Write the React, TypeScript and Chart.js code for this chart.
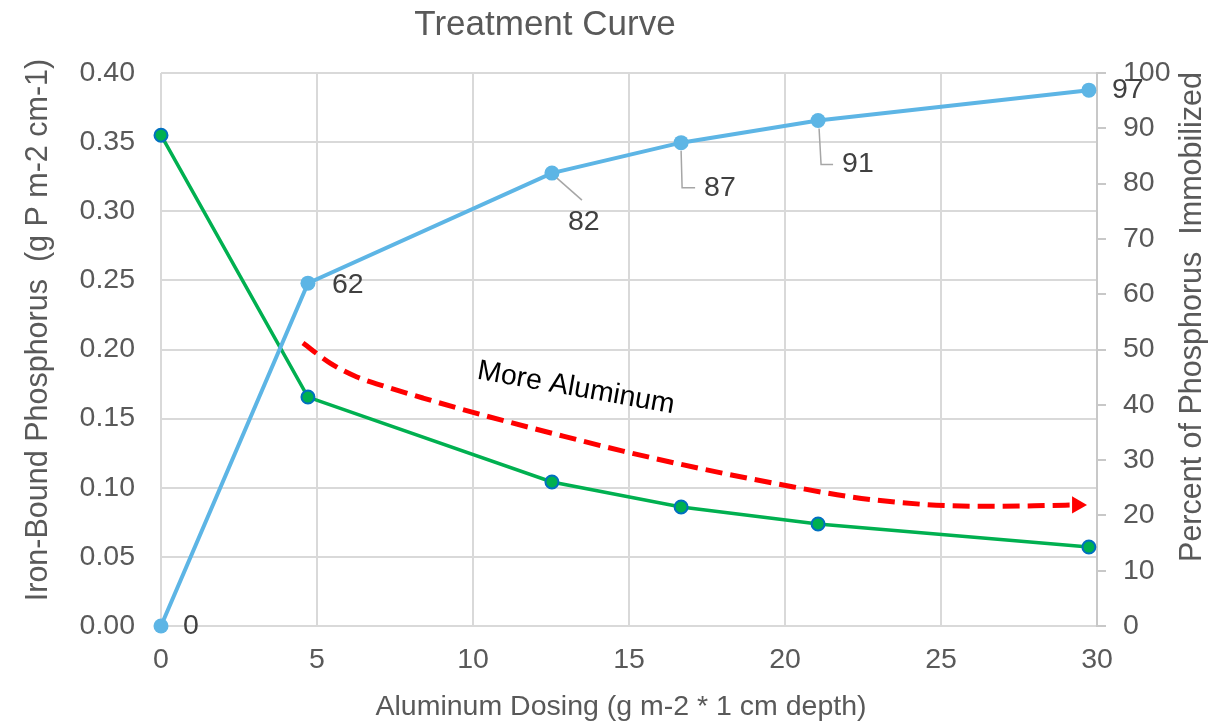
import React, { useEffect, useRef } from "react";
import { Chart, registerables } from "chart.js";

Chart.register(...registerables);

// ---- data ----
const dosing = [0, 4.71, 12.53, 16.67, 21.06, 29.74];
const ironBoundP = [0.355, 0.1656, 0.1042, 0.0861, 0.0738, 0.0571];
const percentImmobilized = [0, 62, 81.9, 87.4, 91.4, 96.9];
const percentLabels = ["0", "62", "82", "87", "91", "97"];
const arrowX = [4.55, 5.42, 6.28, 7.34, 8.4, 9.49, 10.54, 12.69, 14.81, 17.37, 19.94, 22.08, 23.69, 25.29, 26.89, 28.49, 29.36];
const arrowY = [0.2047, 0.1902, 0.1801, 0.1722, 0.1649, 0.1577, 0.1512, 0.1385, 0.1265, 0.1135, 0.102, 0.0935, 0.0893, 0.087, 0.0866, 0.0872, 0.0876];
const annotationText = "More Aluminum";
const annotationAt = { x: 13.3, y: 0.172 };
const titleText = "Treatment Curve";
const xTitle = "Aluminum Dosing (g m-2 * 1 cm depth)";
const yTitle = "Iron-Bound Phosphorus  (g P m-2 cm-1)";
const y1Title = "Percent of Phosphorus  Immobilized";

const FONT = "'Liberation Sans', Arial, sans-serif";
const GRAY = "#595959";

// label placement relative to each point (style only)
const labelPlacement = [
  { dx: 22, dy: 0, leader: [] as number[][] },
  { dx: 24, dy: 2, leader: [] as number[][] },
  { dx: 16, dy: 49, leader: [[5, 5], [30, 27]] },
  { dx: 23, dy: 45, leader: [[0, 8], [1, 45], [14, 45]] },
  { dx: 24, dy: 44, leader: [[1, 8], [3, 44], [15, 44]] },
  { dx: 23, dy: 0, leader: [] as number[][] },
];

const overlayPlugin = {
  id: "overlay",
  afterDatasetsDraw(chart: any) {
    const ctx = chart.ctx;
    const xs = chart.scales.x;
    const ys = chart.scales.y;
    const meta = chart.getDatasetMeta(0);
    ctx.save();
    meta.data.forEach((pt: any, i: number) => {
      const p = labelPlacement[i];
      if (p.leader.length) {
        ctx.beginPath();
        ctx.strokeStyle = "#a6a6a6";
        ctx.lineWidth = 1.5;
        p.leader.forEach((o: number[], k: number) => {
          if (k === 0) ctx.moveTo(pt.x + o[0], pt.y + o[1]);
          else ctx.lineTo(pt.x + o[0], pt.y + o[1]);
        });
        ctx.stroke();
      }
      ctx.fillStyle = "#404040";
      ctx.font = `28.5px ${FONT}`;
      ctx.textAlign = "left";
      ctx.textBaseline = "middle";
      ctx.fillText(percentLabels[i], pt.x + p.dx, pt.y + p.dy);
    });
    const ax = xs.getPixelForValue(annotationAt.x);
    const ay = ys.getPixelForValue(annotationAt.y);
    ctx.translate(ax, ay);
    ctx.rotate((10 * Math.PI) / 180);
    ctx.fillStyle = "#000000";
    ctx.font = `28.5px ${FONT}`;
    ctx.textAlign = "center";
    ctx.textBaseline = "middle";
    ctx.fillText(annotationText, 0, 0);
    ctx.restore();
  },
  afterDraw(chart: any) {
    const ctx = chart.ctx;
    ctx.save();
    ctx.fillStyle = GRAY;
    ctx.textAlign = "center";
    ctx.textBaseline = "alphabetic";
    ctx.font = `35px ${FONT}`;
    ctx.fillText(titleText, 545, 35);
    ctx.font = `28.5px ${FONT}`;
    ctx.fillText(xTitle, 621, 715);
    ctx.textBaseline = "middle";
    ctx.font = `30.5px ${FONT}`;
    ctx.save();
    ctx.translate(39, 330);
    ctx.rotate(-Math.PI / 2);
    ctx.fillText(yTitle, 0, 0);
    ctx.restore();
    ctx.save();
    ctx.translate(1193, 317);
    ctx.rotate(-Math.PI / 2);
    ctx.fillText(y1Title, 0, 0);
    ctx.restore();
    ctx.restore();
  },
};

export default function App() {
  const ref = useRef<HTMLCanvasElement>(null);
  useEffect(() => {
    if (!ref.current) return;
    const arrowRadii = arrowX.map((_, i) => (i === arrowX.length - 1 ? 10 : 0));
    const chart = new Chart(ref.current, {
      type: "line",
      data: {
        datasets: [
          {
            label: "Percent Immobilized",
            data: dosing.map((x, i) => ({ x, y: percentImmobilized[i] })),
            yAxisID: "y1",
            borderColor: "#5DB5E5",
            backgroundColor: "#5DB5E5",
            borderWidth: 4,
            pointRadius: 7.5,
            pointBorderWidth: 0,
            tension: 0,
            clip: false as any,
          },
          {
            label: "Iron-Bound P",
            data: dosing.map((x, i) => ({ x, y: ironBoundP[i] })),
            yAxisID: "y",
            borderColor: "#00B050",
            backgroundColor: "#00B050",
            pointBorderColor: "#0070C0",
            borderWidth: 3.5,
            pointRadius: 6.5,
            pointBorderWidth: 2,
            tension: 0,
            clip: false as any,
          },
          {
            label: "More Aluminum",
            data: arrowX.map((x, i) => ({ x, y: arrowY[i] })),
            yAxisID: "y",
            borderColor: "#FF0000",
            backgroundColor: "#FF0000",
            borderWidth: 5,
            borderDash: [17, 8],
            pointRadius: arrowRadii,
            pointStyle: "triangle",
            pointRotation: 90,
            pointBorderWidth: 0,
            cubicInterpolationMode: "monotone",
            clip: false as any,
          },
        ],
      },
      options: {
        responsive: false,
        animation: false,
        layout: { padding: { top: 73, left: 0, right: 0, bottom: 0 } },
        plugins: {
          legend: { display: false },
          tooltip: { enabled: false },
          title: { display: false },
        },
        scales: {
          x: {
            type: "linear",
            min: 0,
            max: 30,
            ticks: { stepSize: 5, color: GRAY, font: { size: 28.5, family: FONT }, padding: 17 },
            grid: { color: "#d9d9d9", lineWidth: 2, drawTicks: false },
            border: { display: false },
            afterFit: (s: any) => { s.height = 97; },
          },
          y: {
            type: "linear",
            position: "left",
            min: 0,
            max: 0.4,
            ticks: {
              stepSize: 0.05,
              color: GRAY,
              font: { size: 28.5, family: FONT },
              padding: 26,
              callback: (v: any) => Number(v).toFixed(2),
            },
            grid: { color: "#d9d9d9", lineWidth: 2, drawTicks: false },
            border: { display: false },
            afterFit: (s: any) => { s.width = 161; },
          },
          y1: {
            type: "linear",
            position: "right",
            min: 0,
            max: 100,
            ticks: { stepSize: 10, color: GRAY, font: { size: 28.5, family: FONT }, padding: 17 },
            grid: { drawOnChartArea: false, color: "#c8c8c8", lineWidth: 2, tickLength: 9 },
            border: { display: true, color: "#c8c8c8", width: 2 },
            afterFit: (s: any) => { s.width = 117; },
          },
        },
      },
      plugins: [overlayPlugin],
    } as any);
    return () => chart.destroy();
  }, []);
  return (
    <div style={{ position: "fixed", left: 0, top: 0, width: 1214, height: 723, background: "#fff" }}>
      <canvas ref={ref} width={1214} height={723} />
    </div>
  );
}
